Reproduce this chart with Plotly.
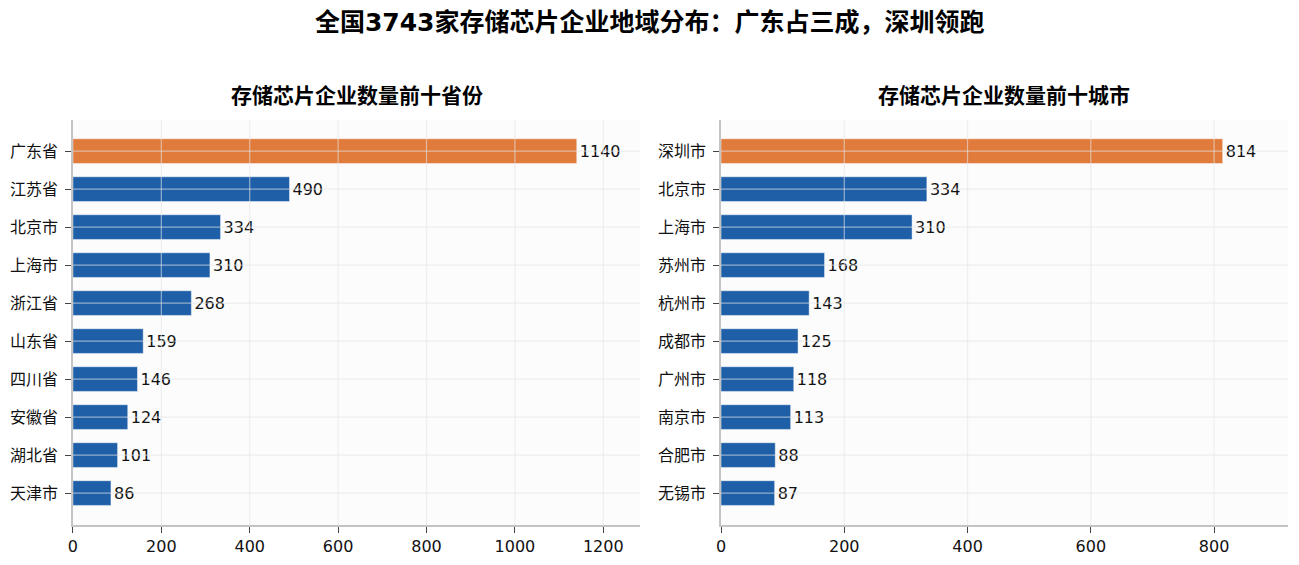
import plotly.graph_objects as go
from plotly.subplots import make_subplots

# top ten provinces / cities by number of storage chip companies
provinces = ["广东省", "江苏省", "北京市", "上海市", "浙江省", "山东省", "四川省", "安徽省", "湖北省", "天津市"]
province_counts = [1140, 490, 334, 310, 268, 159, 146, 124, 101, 86]

cities = ["深圳市", "北京市", "上海市", "苏州市", "杭州市", "成都市", "广州市", "南京市", "合肥市", "无锡市"]
city_counts = [814, 334, 310, 168, 143, 125, 118, 113, 88, 87]

x_ticks_left = [0, 200, 400, 600, 800, 1000, 1200]
x_ticks_right = [0, 200, 400, 600, 800]

ORANGE = "#E07B3C"
BLUE = "#1F5FA8"
FONT = "DejaVu Sans, Noto Sans CJK SC"
GRID = "rgba(228,228,228,0.6)"

fig = make_subplots(rows=1, cols=2)


def bar_colors(values):
    top = max(values)
    return [ORANGE if v == top else BLUE for v in values]


for col, (names, values) in enumerate([(provinces, province_counts), (cities, city_counts)], start=1):
    fig.add_trace(go.Bar(
        x=values, y=names, orientation="h", width=0.65,
        marker=dict(color=bar_colors(values), line=dict(color="rgba(255,255,255,0.45)", width=1)),
        text=[str(v) for v in values], textposition="outside",
        textfont=dict(family=FONT, size=16, color="#111"),
        cliponaxis=False, showlegend=False, hoverinfo="x+y",
    ), row=1, col=col)

# grid drawn over the bars like the source image
for col, (names, ticks) in enumerate([(provinces, x_ticks_left), (cities, x_ticks_right)], start=1):
    for t in ticks[1:]:
        fig.add_vline(x=t, line=dict(color=GRID, width=1.2), layer="above", row=1, col=col)
    for n in names:
        fig.add_hline(y=n, line=dict(color=GRID, width=1.2), layer="above", row=1, col=col)

axis_common = dict(
    showgrid=False, zeroline=False, showline=True, linecolor="#c4c4c4", linewidth=1.5,
    ticks="outside", ticklen=6, tickwidth=1.2, tickcolor="#444",
    tickfont=dict(family=FONT, size=16, color="#111"), automargin=False,
)

fig.update_xaxes(**axis_common)
fig.update_yaxes(**axis_common, ticklabelstandoff=4)

fig.update_layout(
    xaxis=dict(domain=[0.05, 0.4865], range=[0, 1283], tickvals=x_ticks_left),
    xaxis2=dict(domain=[0.5489, 0.9854], range=[0, 920], tickvals=x_ticks_right),
    yaxis=dict(domain=[0.085, 0.8018], range=[9.84, -0.82]),
    yaxis2=dict(domain=[0.085, 0.8018], range=[9.84, -0.82]),
    width=1299, height=565,
    margin=dict(l=0, r=0, t=0, b=0),
    paper_bgcolor="white", plot_bgcolor="#fcfcfc",
    font=dict(family=FONT, color="#111"),
    title=dict(text="<b>全国3743家存储芯片企业地域分布：广东占三成，深圳领跑</b>",
               x=0.494, xanchor="center", y=0.975, yanchor="middle",
               font=dict(family=FONT, size=25, color="#000")),
    annotations=[
        dict(text="<b>存储芯片企业数量前十省份</b>", x=0.2687, y=0.844, xref="paper", yref="paper",
             xanchor="center", yanchor="middle", showarrow=False,
             font=dict(family=FONT, size=21, color="#000")),
        dict(text="<b>存储芯片企业数量前十城市</b>", x=0.7667, y=0.844, xref="paper", yref="paper",
             xanchor="center", yanchor="middle", showarrow=False,
             font=dict(family=FONT, size=21, color="#000")),
    ],
)

fig.write_html("out.html")
